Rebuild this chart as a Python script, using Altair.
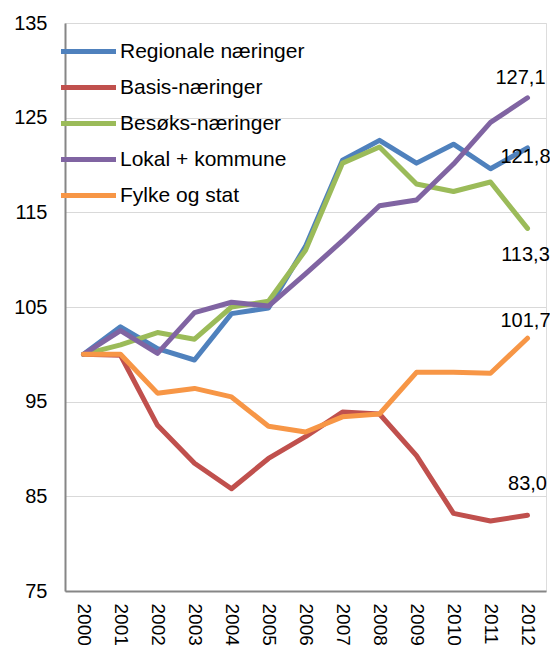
import altair as alt
import pandas as pd

years = [str(y) for y in range(2000, 2013)]
series_names = ["Regionale næringer", "Basis-næringer", "Besøks-næringer",
                "Lokal + kommune", "Fylke og stat"]
regionale = [100, 102.9, 100.6, 99.4, 104.3, 104.9, 111.4, 120.5, 122.6, 120.2, 122.2, 119.6, 121.8]
basis = [100, 99.9, 92.5, 88.5, 85.8, 89.0, 91.3, 93.9, 93.7, 89.3, 83.2, 82.4, 83.0]
besoks = [100, 101.0, 102.3, 101.6, 105.0, 105.6, 111.0, 120.2, 121.9, 118.0, 117.2, 118.2, 113.3]
lokal = [100, 102.5, 100.1, 104.4, 105.5, 105.1, 108.5, 112.0, 115.7, 116.3, 120.1, 124.5, 127.1]
fylke = [100, 100.0, 95.9, 96.4, 95.5, 92.4, 91.8, 93.4, 93.7, 98.1, 98.1, 98.0, 101.7]
colors = ["#4F81BD", "#C0504D", "#9BBB59", "#8064A2", "#F79646"]
end_labels = ["121,8", "83,0", "113,3", "127,1", "101,7"]
y_ticks = [75, 85, 95, 105, 115, 125, 135]

all_series = [regionale, basis, besoks, lokal, fylke]
rows = []
for name, vals in zip(series_names, all_series):
    for yr, v in zip(years, vals):
        rows.append({"year": yr, "value": v, "series": name})
df = pd.DataFrame(rows)

lab_df = pd.DataFrame({
    "year": [years[-1]] * len(series_names),
    "value": [s[-1] for s in all_series],
    "series": series_names,
    "text": end_labels,
})

FONT = "Liberation Sans"

x_enc = alt.X("year:N", scale=alt.Scale(type="point", padding=0.5),
              axis=alt.Axis(title=None, labelAngle=90, ticks=False, tickSize=0,
                            labelPadding=12, labelFontSize=19, labelColor="#000",
                            domainColor="#868686", domainWidth=2, grid=False))
y_enc = alt.Y("value:Q", scale=alt.Scale(domain=[75, 135], nice=False, zero=False),
              axis=alt.Axis(title=None, values=y_ticks, ticks=False, tickSize=0,
                            labelPadding=18, labelFontSize=20, labelColor="#000",
                            grid=True, gridColor="#d9d9d9", gridWidth=1,
                            domainColor="#868686", domainWidth=2))

lines = alt.Chart(df).mark_line(strokeWidth=5, strokeCap="round", strokeJoin="round").encode(
    x=x_enc,
    y=y_enc,
    color=alt.Color("series:N",
                    scale=alt.Scale(domain=series_names, range=colors),
                    legend=alt.Legend(orient="none", legendX=10, legendY=15, title=None,
                                      symbolType="M-2.5,0H2.5", symbolSize=484,
                                      symbolStrokeWidth=5, labelFontSize=21,
                                      labelFont=FONT, labelColor="#000", labelLimit=400,
                                      rowPadding=12, labelOffset=18, padding=0)),
    detail="series:N",
)

offsets = {
    "Regionale næringer": (-2, 9),
    "Basis-næringer": (0, -31),
    "Besøks-næringer": (-2, 27),
    "Lokal + kommune": (-7, -20),
    "Fylke og stat": (-2, -17),
}

layers = [lines]
for name in series_names:
    dx, dy = offsets[name]
    layers.append(
        alt.Chart(lab_df[lab_df["series"] == name]).mark_text(
            fontSize=20, font=FONT, color="#000", dx=dx, dy=dy, align="center",
            baseline="middle").encode(
            x=alt.X("year:N", scale=alt.Scale(type="point", padding=0.5)),
            y=alt.Y("value:Q", scale=alt.Scale(domain=[75, 135], nice=False, zero=False)),
            text="text:N",
        )
    )

chart = alt.layer(*layers).properties(
    width=481, height=568,
    autosize=alt.AutoSizeParams(type="none"),
    padding={"left": 57, "top": 15, "right": 4, "bottom": 59},
).configure_view(stroke=None).configure(font=FONT)

chart.save("out.html", embed_options={"renderer": "svg", "actions": False})
